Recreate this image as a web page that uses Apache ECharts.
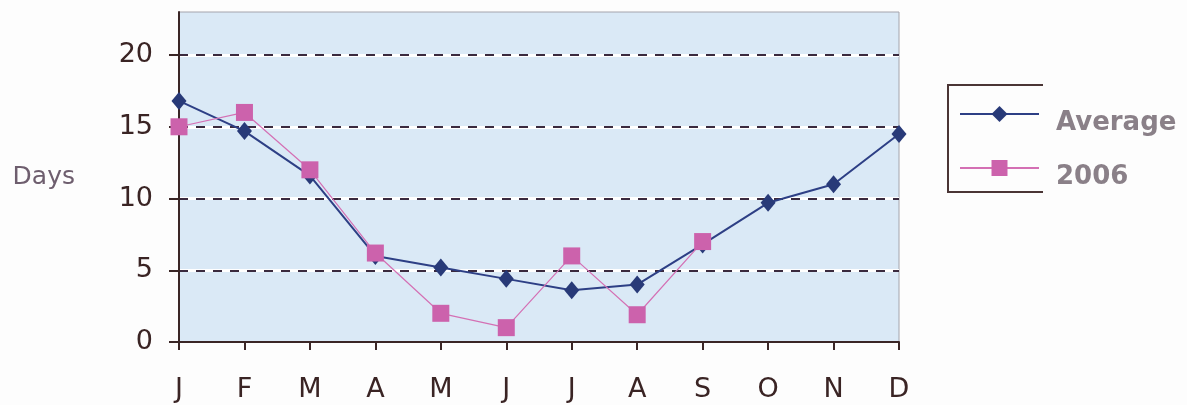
<!DOCTYPE html>
<html>
<head>
<meta charset="utf-8">
<script src="https://cdn.jsdelivr.net/npm/echarts@6/dist/echarts.min.js"></script>
<style>
  html, body { margin: 0; padding: 0; background: #fdfdfd; }
  #chart { width: 1187px; height: 405px; }
</style>
</head>
<body>
<div id="chart"></div>
<script>
// Month initials along the bottom axis
const months = ['J', 'F', 'M', 'A', 'M', 'J', 'J', 'A', 'S', 'O', 'N', 'D'];
// Long-term average number of days per month
const averageDays = [16.8, 14.7, 11.6, 6.0, 5.2, 4.4, 3.6, 4.0, 6.8, 9.7, 11.0, 14.5];
// Days per month in 2006 (January to September)
const days2006 = [15.0, 16.0, 12.0, 6.2, 2.0, 1.0, 6.0, 1.9, 7.0];
// Labelled values on the vertical axis
const yTicks = [0, 5, 10, 15, 20];

const axisInk = '#3a2626';
const labelFont = { fontFamily: 'DejaVu Sans', fontSize: 27, color: '#3a2424' };

const chart = echarts.init(document.getElementById('chart'), null, { renderer: 'canvas' });

chart.setOption({
  backgroundColor: '#fdfdfd',
  animation: false,
  grid: {
    left: 179, right: 288, top: 12, bottom: 63,
    containLabel: false,
    outerBoundsMode: 'none',
    show: true,
    backgroundColor: '#dae9f6',
    borderColor: '#a4a4ac',
    borderWidth: 1
  },
  legend: {
    orient: 'vertical',
    left: 959,
    top: 92,
    padding: 0,
    itemWidth: 79,
    itemHeight: 20,
    itemGap: 10,
    formatter: '{t|{name}}',
    textStyle: {
      rich: {
        t: {
          fontFamily: 'DejaVu Sans',
          fontWeight: 'bold',
          fontSize: 26,
          lineHeight: 30,
          color: '#8a8088',
          padding: [18, 0, 0, 12]
        }
      }
    },
    data: ['Average', '2006']
  },
  graphic: [{
    type: 'polyline',
    shape: { points: [[1043, 85], [948, 85], [948, 192], [1043, 192]] },
    style: { stroke: '#4a3535', lineWidth: 2, fill: null }
  }],
  xAxis: {
    type: 'category',
    data: months,
    boundaryGap: false,
    axisLine: { lineStyle: { color: axisInk, width: 2 } },
    axisTick: { show: true, length: 8, lineStyle: { color: axisInk, width: 2 } },
    axisLabel: Object.assign({ margin: 34, interval: 0 }, labelFont),
    splitLine: { show: false }
  },
  yAxis: [{
    type: 'value',
    min: 0, max: 23,
    name: 'Days',
    nameLocation: 'middle',
    nameRotate: 0,
    nameGap: 104,
    nameTextStyle: { fontFamily: 'DejaVu Sans', fontSize: 25, color: '#6e5e6e', padding: [22, 0, 0, 0] },
    axisLine: { show: true, lineStyle: { color: axisInk, width: 2 } },
    axisTick: { show: true, length: 10, customValues: yTicks, lineStyle: { color: axisInk, width: 2 } },
    axisLabel: Object.assign({ margin: 26, customValues: yTicks }, labelFont),
    splitLine: { show: true, showMinLine: false, lineStyle: { color: '#ffffff', width: 3 } }
  }, {
    type: 'value',
    min: 0, max: 23,
    position: 'left',
    axisLine: { show: false },
    axisTick: { show: false, customValues: yTicks },
    axisLabel: { show: false, customValues: yTicks },
    splitLine: { show: true, showMinLine: false, lineStyle: { color: '#3a2a3e', width: 2, type: [9, 8] } }
  }],
  series: [{
    name: 'Average',
    type: 'line',
    data: averageDays,
    symbol: 'diamond',
    symbolSize: [15, 18],
    itemStyle: { color: '#283a78' },
    lineStyle: { color: '#2d3f85', width: 2 },
    z: 3
  }, {
    name: '2006',
    type: 'line',
    data: days2006,
    symbol: 'rect',
    symbolSize: 17,
    itemStyle: { color: '#cc62ac' },
    lineStyle: { color: '#d470b4', width: 1.2 },
    z: 4
  }]
});
</script>
</body>
</html>
